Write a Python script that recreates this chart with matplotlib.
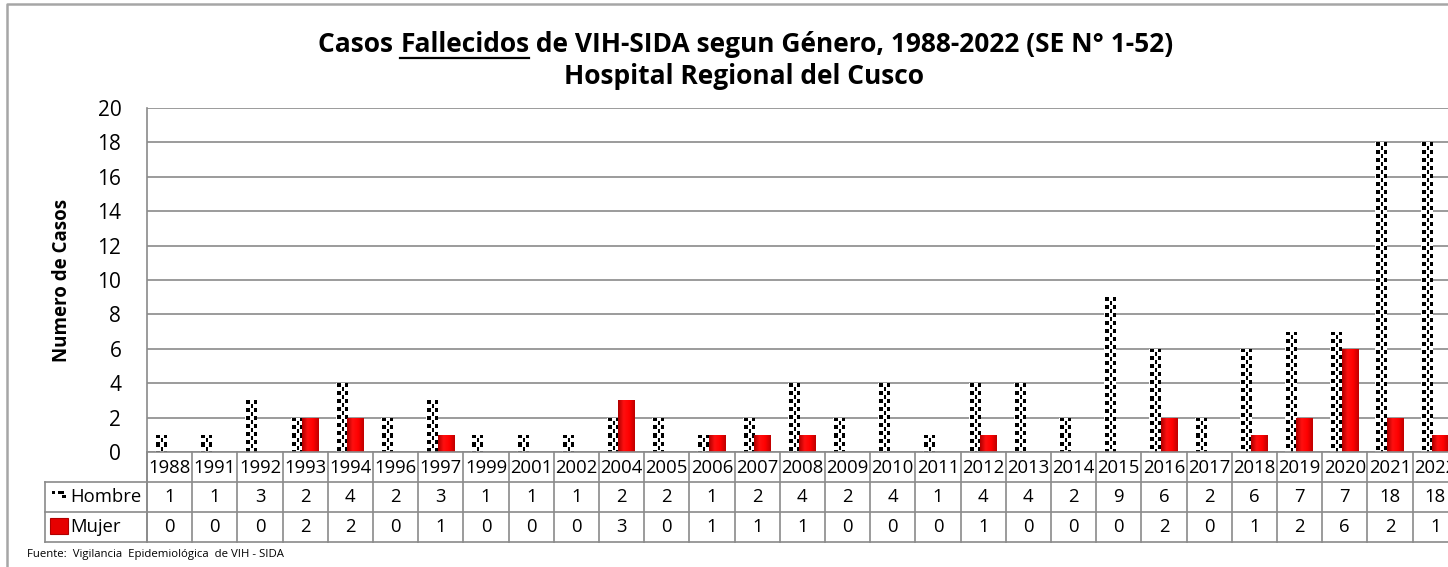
import numpy as np
import matplotlib
matplotlib.use("Agg")
import matplotlib.pyplot as plt
from matplotlib.patches import Rectangle
from matplotlib.lines import Line2D
from matplotlib.colors import LinearSegmentedColormap
from matplotlib.transforms import blended_transform_factory

plt.rcParams['font.family'] = ['Open Sans', 'DejaVu Sans']

years = ['1988', '1991', '1992', '1993', '1994', '1996', '1997', '1999', '2001', '2002',
         '2004', '2005', '2006', '2007', '2008', '2009', '2010', '2011', '2012', '2013',
         '2014', '2015', '2016', '2017', '2018', '2019', '2020', '2021', '2022']
hombre = [1, 1, 3, 2, 4, 2, 3, 1, 1, 1, 2, 2, 1, 2, 4, 2, 4, 1, 4, 4, 2, 9, 6, 2, 6, 7, 7, 18, 18]
mujer = [0, 0, 0, 2, 2, 0, 1, 0, 0, 0, 3, 0, 1, 1, 1, 0, 0, 0, 1, 0, 0, 0, 2, 0, 1, 2, 6, 2, 1]
yticks = list(range(0, 21, 2))

W, H = 1448, 567
fig = plt.figure(figsize=(W / 100, H / 100), dpi=100)

def fx(px):
    return px / W

def fy(py):
    return (H - py) / H

grid_c = '#8a8a8a'
col_w = 45.2
n = len(years)
ax = fig.add_axes([fx(147), fy(452), n * col_w / W, (452 - 108) / H])
ax.set_xlim(-0.5, n - 0.5)
ax.set_ylim(0, 20)

# pattern for "Hombre" bars (black squares on white)
def pattern(rows, cols):
    r, c = np.mgrid[0:rows, 0:cols]
    a = ((r % 8) < 4) & ((c % 8) >= 1) & ((c % 8) < 5)
    b = ((r % 8) >= 4) & ((c % 8) >= 6)
    return np.where(a | b, 0.0, 1.0)

red_cmap = LinearSegmentedColormap.from_list('rb', ['#b00000', '#ff1010', '#ff0000', '#c00000'])
grad = np.linspace(0, 1, 32).reshape(1, -1)

x = np.arange(n)
h_off, h_w = -0.195, 0.26
m_off, m_w = 0.11, 0.36
px_per_unit_y = 344 / 20
for i in range(n):
    if hombre[i] > 0:
        bar = Rectangle((x[i] + h_off - h_w / 2, 0), h_w, hombre[i], facecolor='white', edgecolor='none', zorder=2)
        ax.add_patch(bar)
        rows = int(round(hombre[i] * px_per_unit_y))
        cols = int(round(h_w * col_w))
        im = ax.imshow(pattern(rows, cols), cmap='gray', vmin=0, vmax=1, interpolation='nearest',
                       extent=[x[i] + h_off - h_w / 2, x[i] + h_off + h_w / 2, 0, hombre[i]],
                       aspect='auto', zorder=3)
        im.set_clip_path(bar)
    if mujer[i] > 0:
        bar = Rectangle((x[i] + m_off - m_w / 2, 0), m_w, mujer[i], facecolor='#ee0000', edgecolor='none', zorder=2)
        ax.add_patch(bar)
        im = ax.imshow(grad, cmap=red_cmap, interpolation='bilinear',
                       extent=[x[i] + m_off - m_w / 2, x[i] + m_off + m_w / 2, 0, mujer[i]],
                       aspect='auto', zorder=3)
        im.set_clip_path(bar)

ax.set_xlim(-0.5, n - 0.5)
ax.set_ylim(0, 20)
ax.set_yticks(yticks)
ax.set_xticks([])
ax.yaxis.grid(True, color=grid_c, lw=1.2)
ax.set_axisbelow(True)
for s in ['top', 'right', 'bottom']:
    ax.spines[s].set_visible(False)
ax.spines['left'].set_color(grid_c)
ax.spines['left'].set_linewidth(1.2)
ax.tick_params(axis='y', length=0, pad=18.5, labelsize=15)

# data table below the plot
tr = blended_transform_factory(ax.transData, fig.transFigure)
row_y = [452, 482, 512, 542]
for yy in row_y[1:]:
    fig.add_artist(Line2D([fx(45), fx(147 + n * col_w)], [fy(yy), fy(yy)], color=grid_c, lw=1.2))
fig.add_artist(Line2D([fx(147), fx(147 + n * col_w)], [fy(452), fy(452)], color=grid_c, lw=1.2))
for k in range(n + 1):
    ax.add_line(Line2D([k - 0.5, k - 0.5], [fy(452), fy(542)], transform=tr, color=grid_c, lw=1.2, clip_on=False))
fig.add_artist(Line2D([fx(45), fx(45)], [fy(482), fy(542)], color=grid_c, lw=1.2))
fig.add_artist(Line2D([fx(147), fx(147)], [fy(452), fy(542)], color=grid_c, lw=1.2))

tsize = 13.3
for i in range(n):
    ax.text(x[i], fy(468), years[i], transform=tr, ha='center', va='center', fontsize=tsize, clip_on=False)
    ax.text(x[i], fy(497), str(hombre[i]), transform=tr, ha='center', va='center', fontsize=tsize, clip_on=False)
    ax.text(x[i], fy(527), str(mujer[i]), transform=tr, ha='center', va='center', fontsize=tsize, clip_on=False)

# legend keys inside table
fig.text(fx(70), fy(497), 'Hombre', ha='left', va='center', fontsize=tsize)
fig.text(fx(70), fy(527), 'Mujer', ha='left', va='center', fontsize=tsize)
for (sx, sy, sw) in [(52, 491, 3), (58, 491, 6), (62, 495, 4)]:
    fig.add_artist(Rectangle((fx(sx), fy(sy + 3)), sw / W, 3 / H, facecolor='black', edgecolor='none'))
fig.add_artist(Rectangle((fx(50), fy(534)), 18 / W, 16 / H, facecolor='#e60000', edgecolor='#b00000', lw=0.8))

# axis label
fig.text(fx(62), fy(280), 'Numero de Casos', rotation=90, ha='center', va='center', fontsize=13.5, fontweight='bold')

# title with underlined word
title_kw = dict(fontsize=19, fontweight='bold', va='center')
parts = ['Casos ', 'Fallecidos', ' de VIH-SIDA segun Género, 1988-2022 (SE N° 1-52)']
renderer = fig.canvas.get_renderer()
widths = []
for p in parts:
    t = fig.text(0, 0, p.replace(' ', '\u00a0'), **title_kw)
    widths.append(t.get_window_extent(renderer).width)
    t.remove()
cx = 746
x0 = cx - sum(widths) / 2
for p, w in zip(parts, widths):
    fig.text(fx(x0), fy(45), p.replace(' ', '\u00a0'), ha='left', **title_kw)
    if p == 'Fallecidos':
        fig.add_artist(Line2D([fx(x0), fx(x0 + w)], [fy(58), fy(58)], color='black', lw=1.6))
    x0 += w
fig.text(fx(744), fy(76), 'Hospital Regional del Cusco', ha='center', **title_kw)

# source
fig.text(fx(27), fy(555), 'Fuente:  Vigilancia  Epidemiológica  de VIH - SIDA', ha='left', va='center', fontsize=8.2)

# outer frame
fig.add_artist(Line2D([fx(7), fx(7), fx(W)], [0, fy(4), fy(4)], color='#a6a6a6', lw=1.8))

fig.savefig('out.png', dpi=100)
